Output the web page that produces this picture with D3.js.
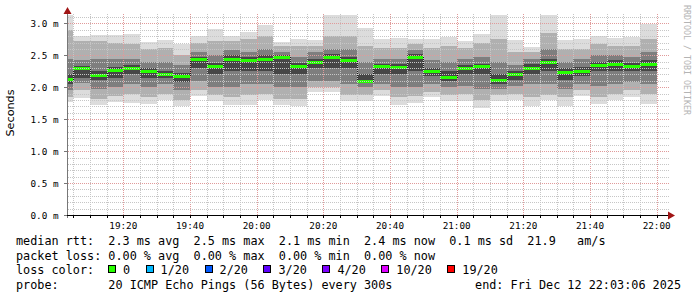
<!DOCTYPE html>
<html><head><meta charset="utf-8">
<script src="https://cdn.jsdelivr.net/npm/d3@7"></script>
<style>
body{margin:0;background:#fff}
svg{display:block}
text{white-space:pre}
</style>
</head><body>
<svg id="c" width="697" height="297"></svg>
<script>
// ---- data (milliseconds) ----
const binEnds = ["19:05","19:10","19:15","19:20","19:25","19:30","19:35","19:40","19:45","19:50","19:55","20:00",
  "20:05","20:10","20:15","20:20","20:25","20:30","20:35","20:40","20:45","20:50","20:55","21:00",
  "21:05","21:10","21:15","21:20","21:25","21:30","21:35","21:40","21:45","21:50","21:55","22:00"];
const median = [2.134,2.30,2.19,2.27,2.30,2.255,2.21,2.18,2.44,2.33,2.45,2.43,2.45,2.47,2.34,2.40,2.48,2.43,
  2.10,2.33,2.32,2.48,2.255,2.16,2.30,2.33,2.11,2.20,2.30,2.395,2.24,2.255,2.35,2.37,2.33,2.37];
const pMin = [1.77,1.83,1.72,1.77,1.76,1.74,1.80,1.70,1.87,1.78,1.72,1.72,1.80,1.72,1.70,1.93,1.92,1.78,
  1.78,1.87,1.72,1.76,1.84,1.78,1.79,1.67,1.79,1.80,1.70,1.80,1.70,1.87,1.74,1.80,1.85,1.73];
const p10 = [1.85,1.96,1.82,1.86,1.90,1.85,1.90,1.80,1.95,1.88,1.85,1.88,1.90,1.82,1.82,2.00,2.00,1.88,
  1.88,1.95,1.85,1.86,1.92,1.88,1.90,1.80,1.88,1.90,1.85,1.88,1.85,1.95,1.85,1.90,1.95,1.90];
const p25 = [1.95,2.07,1.98,2.00,2.05,2.00,2.05,1.95,2.10,2.00,2.00,2.05,2.05,2.00,2.00,2.10,2.10,2.05,
  2.00,2.05,2.00,2.00,2.05,2.00,2.02,1.98,1.98,2.02,2.05,2.05,1.98,2.05,2.02,2.05,2.08,2.05];
const p40 = [2.05,2.14,2.12,2.15,2.20,2.15,2.15,2.08,2.30,2.20,2.25,2.25,2.25,2.20,2.20,2.30,2.30,2.30,
  2.07,2.20,2.20,2.25,2.18,2.10,2.20,2.20,2.05,2.12,2.20,2.25,2.12,2.18,2.25,2.25,2.25,2.25];
const p60 = [2.20,2.33,2.25,2.32,2.35,2.30,2.26,2.22,2.48,2.38,2.50,2.47,2.50,2.50,2.38,2.45,2.52,2.47,
  2.20,2.37,2.36,2.52,2.30,2.25,2.35,2.37,2.20,2.25,2.36,2.45,2.30,2.32,2.40,2.42,2.38,2.42];
const p75 = [2.45,2.43,2.45,2.45,2.45,2.40,2.40,2.35,2.55,2.50,2.58,2.55,2.60,2.55,2.48,2.55,2.60,2.60,
  2.40,2.45,2.45,2.58,2.42,2.40,2.45,2.48,2.40,2.35,2.45,2.60,2.40,2.45,2.50,2.50,2.48,2.55];
const p90 = [2.90,2.72,2.72,2.70,2.68,2.60,2.62,2.50,2.70,2.72,2.72,2.75,2.80,2.65,2.65,2.65,2.80,2.80,
  2.65,2.62,2.62,2.68,2.62,2.65,2.62,2.70,2.75,2.55,2.55,2.85,2.60,2.60,2.68,2.65,2.65,2.75];
const pMax = [3.13,2.80,2.82,2.82,2.83,2.71,2.74,2.67,2.81,2.91,2.81,2.87,2.97,2.71,2.76,2.74,3.13,3.13,
  2.92,2.75,2.77,2.75,2.76,2.79,2.72,2.83,3.13,2.74,2.63,3.13,2.74,2.75,2.81,2.77,2.78,2.99];
const yTicks = [0.0,0.5,1.0,1.5,2.0,2.5,3.0];
const xTickLabels = ["19:20","19:40","20:00","20:20","20:40","21:00","21:20","21:40","22:00"];
const lossLabels = ["0","1/20","2/20","3/20","4/20","10/20","19/20"];
const lossColors = ["#26ff00","#00b8ff","#0059ff","#5e00ff","#7e00ff","#dd00ff","#ff0000"];
const statLine = "median rtt:  2.3 ms avg  2.5 ms max  2.1 ms min  2.4 ms now  0.1 ms sd  21.9   am/s";
const lossLine = "packet loss: 0.00 % avg  0.00 % max  0.00 % min  0.00 % now";
const probeLine = "probe:       20 ICMP Echo Pings (56 Bytes) every 300s";
const endLine = "end: Fri Dec 12 22:03:06 2025";

// ---- layout ----
const X0 = 67, X1 = 667, Y0 = 215, Y1 = 15;
const day = "2025-12-12T";
const t = s => new Date(day + s + ":00Z");
const x = d3.scaleUtc().domain([new Date(day+"19:03:06Z"), new Date(day+"22:03:06Z")]).range([X0, X1]);
const y = d3.scaleLinear().domain([0, 3.131]).range([Y0, Y1]);
const svg = d3.select("#c");
const MONO = "'DejaVu Sans Mono', monospace";

svg.append("rect").attr("width",697).attr("height",297).attr("fill","#fff");
const defs = svg.append("defs");
defs.append("clipPath").attr("id","pc").append("rect")
  .attr("x",X0).attr("y",Y1).attr("width",X1-X0).attr("height",Y0-Y1);

const bars = binEnds.map((e,i)=>{
  const end = t(e), start = new Date(end.getTime() - 5*60000);
  return {x0: Math.max(X0, Math.round(x(start))), x1: Math.round(x(end)), med: median[i],
    layers: [[pMin[i],pMax[i]],[p10[i],p90[i]],[p25[i],p75[i]],[p40[i],p60[i]]]};
});
const layerColors = ["#dcdcdc","#b0b0b0","#7e7e7e","#464646"];
const plot = svg.append("g").attr("clip-path","url(#pc)");
layerColors.forEach((c,li)=>{
  plot.selectAll(null).data(bars).enter().append("rect")
    .attr("x",d=>d.x0).attr("width",d=>d.x1-d.x0)
    .attr("y",d=>Math.round(y(d.layers[li][1]))).attr("height",d=>Math.round(y(d.layers[li][0]))-Math.round(y(d.layers[li][1])))
    .attr("fill",c);
});

// grid (on top of smoke): dotted lines drawn as 1px dots
const grid = svg.append("g");
const minutes = d3.utcMinute.every(5).range(t("19:05"), new Date(day+"22:03:07Z"));
function vDots(xx, col){
  for(let yy=Y0-1; yy>=Y1-2; yy-=2) grid.append("rect").attr("x",xx).attr("y",yy).attr("width",1).attr("height",1).attr("fill",col);
}
function hDots(yy, col){
  for(let xx=X0+1; xx<=X1+2; xx+=2) grid.append("rect").attr("x",xx).attr("y",yy).attr("width",1).attr("height",1).attr("fill",col);
}
minutes.forEach(m=>{
  const major = m.getUTCMinutes()%20===0;
  vDots(Math.round(x(m)), major?"#e09a9a":"#c6c6c6");
});
for(let k=1;k<=31;k++){
  const major = k%5===0;
  hDots(Math.round(y(k/10)), major?"#e09a9a":"#c6c6c6");
}

// median step line and loss-coloured median marks
const stepLine = d3.line().x(d=>d[0]).y(d=>d[1]);
const pts = [];
bars.forEach(b=>{ const yy = Math.round(y(b.med))+0.5; pts.push([b.x0, yy]); pts.push([b.x1, yy]); });
plot.append("path").attr("d",stepLine(pts)).attr("fill","none").attr("stroke","#202020").attr("stroke-width",1)
  .attr("shape-rendering","crispEdges");
plot.selectAll(null).data(bars).enter().append("rect")
  .attr("x",d=>d.x0).attr("width",d=>d.x1-d.x0)
  .attr("y",d=>Math.round(y(d.med))-1).attr("height",3).attr("fill",lossColors[0]);

// axes
const ax = svg.append("g").attr("shape-rendering","crispEdges");
ax.append("line").attr("x1",X0+0.5).attr("x2",X0+0.5).attr("y1",Y0+3).attr("y2",10).attr("stroke","#777");
ax.append("line").attr("x1",X0-3).attr("x2",X1+5).attr("y1",Y0+0.5).attr("y2",Y0+0.5).attr("stroke","#000");
minutes.forEach(m=>{
  const xx = Math.round(x(m))+0.5;
  ax.append("line").attr("x1",xx).attr("x2",xx).attr("y1",Y0).attr("y2",Y0+3).attr("stroke","#000");
});
yTicks.forEach(v=>{
  const yy = Math.round(y(v))+0.5;
  ax.append("line").attr("x1",X0-3).attr("x2",X0).attr("y1",yy).attr("y2",yy).attr("stroke","#777");
});
svg.append("path").attr("d",`M${X0+0.5},7 L${X0-3.5},14 L${X0+4.5},14 Z`).attr("fill","#a01515");
svg.append("path").attr("d",`M${X1+8},${Y0+0.5} L${X1+1},${Y0-3.5} L${X1+1},${Y0+4.5} Z`).attr("fill","#a01515");

// tick labels
svg.selectAll(null).data(yTicks).enter().append("text")
  .attr("x",58.5).attr("y",v=>y(v)+3.5).attr("text-anchor","end")
  .attr("font-family",MONO).attr("font-size",9.3).attr("fill","#000")
  .text(v=>d3.format(".1f")(v)+" m");
svg.selectAll(null).data(xTickLabels).enter().append("text")
  .attr("x",s=>x(t(s))).attr("y",228.5).attr("text-anchor","middle")
  .attr("font-family",MONO).attr("font-size",9.3).attr("fill","#000")
  .text(s=>s);

// y title
svg.append("text").attr("transform","translate(14,113) rotate(-90)").attr("text-anchor","middle")
  .attr("font-family","'DejaVu Sans', sans-serif").attr("font-size",11.2).attr("fill","#000").text("Seconds");
// watermark
svg.append("text").attr("transform","translate(684,5) rotate(90)").attr("text-anchor","start")
  .attr("font-family",MONO).attr("font-size",8.3).attr("fill","#b4b4b4").text("RRDTOOL / TOBI OETIKER");

// legend
const LF = 11.8, LX = 16;
const leg = svg.append("g").attr("font-family",MONO).attr("font-size",LF).attr("fill","#000");
leg.append("text").attr("x",LX).attr("y",245).text(statLine);
leg.append("text").attr("x",LX).attr("y",259.5).text(lossLine);
leg.append("text").attr("x",LX).attr("y",274).text("loss color:");
leg.append("text").attr("x",LX).attr("y",288.5).text(probeLine);
leg.append("text").attr("x",681).attr("y",288.5).attr("text-anchor","end").text(endLine);
let lx = 108;
lossLabels.forEach((lab,i)=>{
  leg.append("rect").attr("x",lx+0.5).attr("y",265.5).attr("width",7).attr("height",7)
    .attr("fill",lossColors[i]).attr("stroke","#000").attr("shape-rendering","crispEdges");
  const tx = leg.append("text").attr("x",lx+15).attr("y",274).text(lab);
  lx = lx + 15 + tx.node().getComputedTextLength() + 15.5;
});
</script>
</body></html>
